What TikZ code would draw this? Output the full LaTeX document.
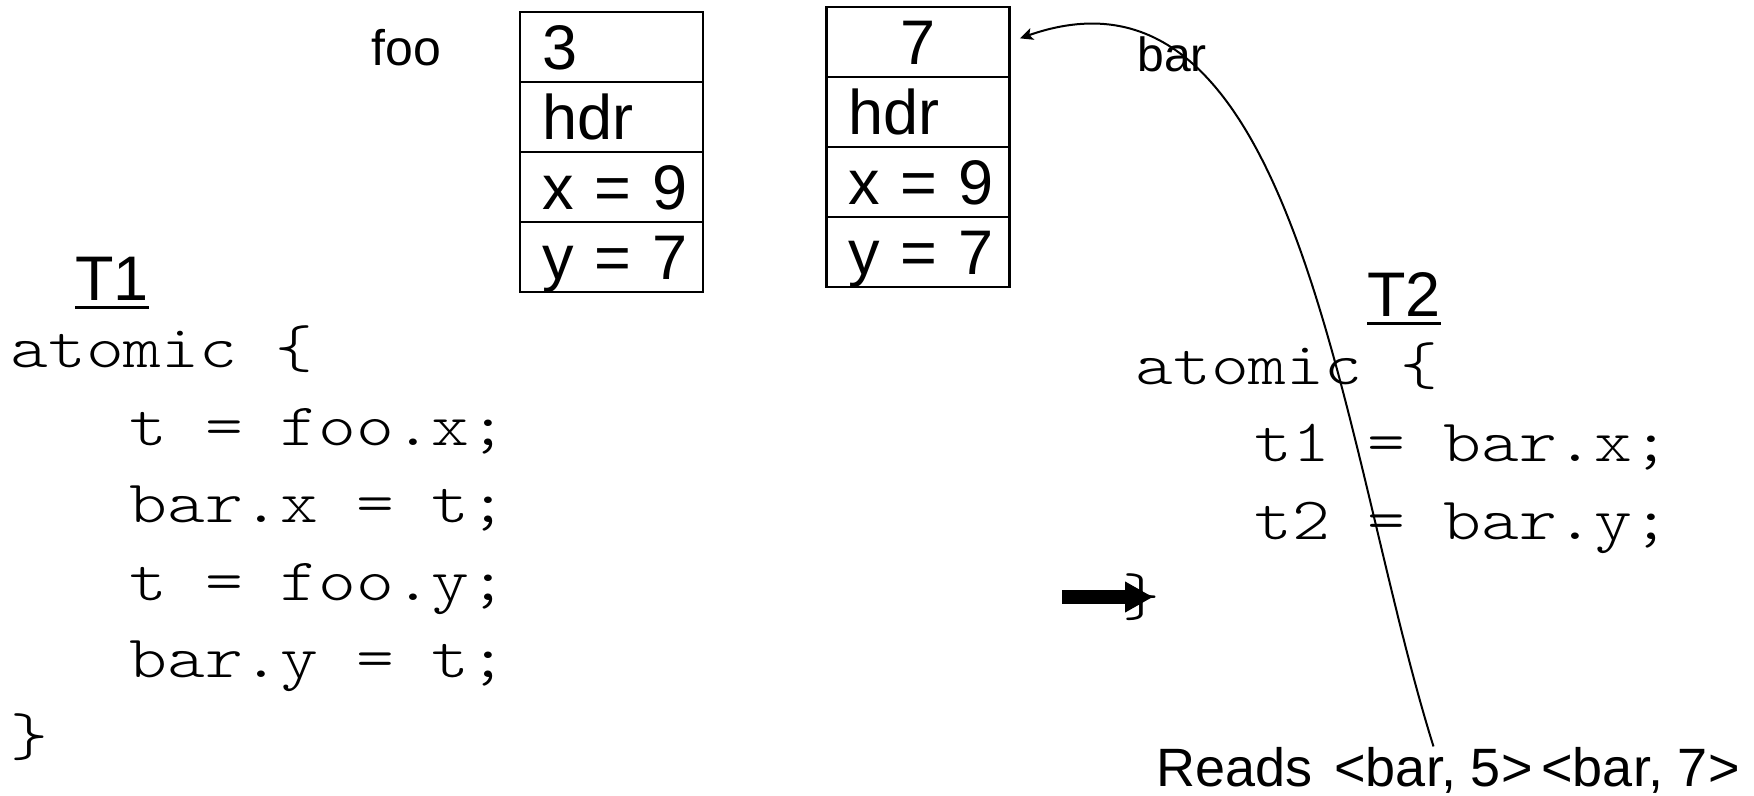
\documentclass[tikz,border=0pt]{standalone}
\usepackage{fontspec}
\setmainfont{Liberation Sans}
\newfontfamily\codefont[FakeStretch=1.2]{lmmonolt10-regular.otf}
\usetikzlibrary{arrows.meta}
\tikzset{
  cell/.style={draw, line width=1.3pt, outer sep=0pt, text width=69.5pt, inner xsep=11pt, inner ysep=0pt,
    minimum height=35pt, align=left, text height=26.8pt, text depth=4.7pt,
    font=\fontsize{31.5}{36}\selectfont, anchor=north},
  code/.style={font=\codefont\fontsize{30}{36}\selectfont, anchor=base west, inner sep=0pt},
  lbl/.style={font=\fontsize{25}{30}\selectfont, anchor=base west, inner sep=0pt},
  title/.style={font=\fontsize{31.5}{36}\selectfont, anchor=base west, inner sep=0pt},
  ul/.style={line width=1.5pt},
  reads/.style={font=\fontsize{27}{30}\selectfont, anchor=base west, inner sep=0pt},
  ptr/.style={line width=1pt, -{Stealth[length=6.5pt,width=6pt,inset=1.5pt]}},
  fat/.style={line width=7pt, -{Triangle[length=14pt,width=14.5pt]}}
}
\begin{document}
\begin{tikzpicture}[x=0.5pt,y=-0.5pt]
\useasboundingbox (0,0) rectangle (1754,796);

% foo object
\node[lbl] (foolbl) at (371,66) {foo};
\node[cell] (f1) at (611.5,12) {\mbox{3}};
\node[cell] (f2) at (f1.south) {\mbox{hdr}};
\node[cell] (f3) at (f2.south) {\mbox{x = 9}};
\node[cell] (f4) at (f3.south) {\mbox{y = 7}};

% bar object
\node[cell, align=center] (b1) at (918,7) {\mbox{7}};
\node[cell] (b2) at (b1.south) {\mbox{hdr}};
\node[cell] (b3) at (b2.south) {\mbox{x = 9}};
\node[cell] (b4) at (b3.south) {\mbox{y = 7}};

\node[lbl, font=\fontsize{24}{28}\selectfont] (barlbl) at (1137,72) {bar};

% T1
\node[title] (t1) at (75,301) {T1};
\draw[ul] ([yshift=-3pt]t1.south west) -- ([yshift=-3pt]t1.south east);
\node[code] (a1) at (10,367) {atomic \{};
\node[code] (a2) at (129,445) {t = foo.x;};
\node[code] (a3) at (129,522) {bar.x = t;};
\node[code] (a4) at (129,600) {t = foo.y;};
\node[code] (a5) at (129,677) {bar.y = t;};
\node[code] (a6) at (10,755) {\}};

% T2
\node[title] (t2) at (1367,317) {T2};
\draw[ul] ([yshift=-3pt]t2.south west) -- ([yshift=-3pt]t2.south east);
\node[code] (c1) at (1135,384) {atomic \{};
\node[code] (c2) at (1254,461) {t1 = bar.x;};
\node[code] (c3) at (1254,539) {t2 = bar.y;};
\node[code] (c4) at (1122,615) {\}};

% current position arrow
\coordinate (fa) at (1062,597);
\coordinate (fb) at (1153,597);
\draw[fat] (fa) -- (fb);

% reads
\node[reads] (r0) at (1156,786) {Reads};
\node[reads] (r1) at (1334,786) {<bar, 5>};
\node[reads] (r2) at (1541,786) {<bar, 7>};

\draw[ptr, shorten >=5.5pt] (r1.north) .. controls (1340,448) and (1300,-60) .. (b1.east);
\end{tikzpicture}
\end{document}
